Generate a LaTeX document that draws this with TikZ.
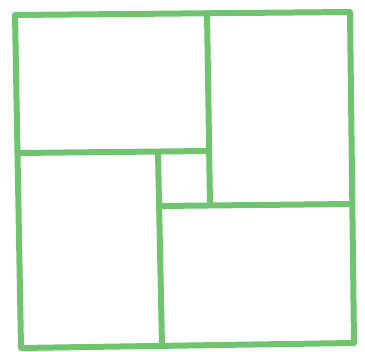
\documentclass[tikz,border=0pt]{standalone}
\definecolor{crayon}{RGB}{112,196,112}
\tikzset{crayonline/.style={draw=crayon,line width=6pt,line cap=round,line join=round}}
\begin{document}
\begin{tikzpicture}[x=1pt,y=-1pt]
\useasboundingbox (0,0) rectangle (365,352);
\fill[white] (0,0) rectangle (365,352);
% outer square
\coordinate (tl) at (15,15);
\coordinate (tr) at (350,12);
\coordinate (br) at (354,343);
\coordinate (bl) at (21,348);
\draw[crayonline] (tl) -- (tr) -- (br) -- (bl) -- cycle;
% inner lines
\coordinate (h1a) at (18,153);
\coordinate (h1b) at (209,151);
\draw[crayonline] (h1a) -- (h1b);
\coordinate (v1a) at (207,13);
\coordinate (v1b) at (210,205);
\draw[crayonline] (v1a) -- (v1b);
\coordinate (h2a) at (161,206);
\coordinate (h2b) at (352,204);
\draw[crayonline] (h2a) -- (h2b);
\coordinate (v2a) at (158,153);
\coordinate (v2b) at (162,346);
\draw[crayonline] (v2a) -- (v2b);
\end{tikzpicture}
\end{document}
